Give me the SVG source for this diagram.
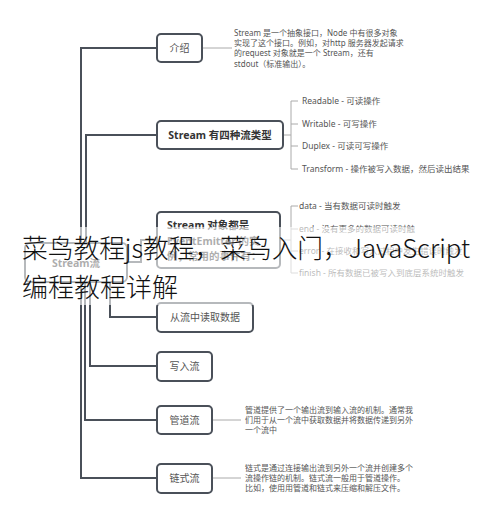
<svg xmlns="http://www.w3.org/2000/svg" width="490" height="521" viewBox="0 0 490 521">
<style>
.node rect{fill:#fff;stroke:#4a5059;stroke-width:2}
.nt{font-family:"Noto Sans","Noto Sans CJK SC",sans-serif;font-size:10px;fill:#555;text-anchor:middle}
.bt{font-family:"Noto Sans","Noto Sans CJK SC",sans-serif;font-size:10.5px;font-weight:bold;fill:#333}
.main{fill:none;stroke:#4a5059;stroke-width:2}
.thin{fill:none;stroke:#aaa;stroke-width:1}
.desc{font-family:"Noto Sans","Noto Sans CJK SC",sans-serif;font-size:8px;fill:#555}
.br{font-family:"Noto Sans","Noto Sans CJK SC",sans-serif;font-size:8.5px;fill:#555}
.wm{font-family:"Noto Sans CJK SC","Noto Sans",sans-serif;font-size:26px;font-weight:300;fill:#111}
</style>
<rect width="490" height="521" fill="#fff"/>
<g id="connectors">
<path class="main" d="M81,243 V48 H157"/>
<path class="main" d="M86,243 V135 H157"/>
<path class="main" d="M127,262 H141 V240 H157"/>
<path class="main" d="M110,282 V317 H157"/>
<path class="main" d="M90,282 V366 H157"/>
<path class="main" d="M85,282 V420 H157"/>
<path class="main" d="M81,282 V478 H157"/>
<path class="thin" d="M202,48 H232"/>
<path class="thin" d="M212,420 H241"/>
<path class="thin" d="M212,478 H241"/>
<path class="thin" stroke="#999" d="M283,135 H291 M298,101 H291 V169 H298 M291,124 H298 M291,146 H298"/>
<path class="thin" stroke="#999" d="M280,240 H291 M298,206 H291 V273 H298 M291,229 H298 M291,251 H298"/>
</g>
<g id="root" class="node"><rect x="25" y="243" width="102" height="39" rx="5"/><text class="bt" x="76" y="267" text-anchor="middle" font-size="12">Stream流</text></g>
<g id="intro" class="node"><rect x="157" y="34" width="45" height="28" rx="4"/><text class="nt" x="179.5" y="52">介绍</text></g>
<g id="intro-text">
<text class="desc" x="234" y="36">Stream 是一个抽象接口，Node 中有很多对象</text>
<text class="desc" x="234" y="46">实现了这个接口。例如，对http 服务器发起请求</text>
<text class="desc" x="234" y="56">的request 对象就是一个 Stream，还有</text>
<text class="desc" x="234" y="67">stdout（标准输出）。</text>
</g>
<g id="types" class="node"><rect x="157" y="121" width="126" height="28" rx="4"/><text class="bt" x="220" y="139" text-anchor="middle">Stream 有四种流类型</text></g>
<g id="types-items">
<text class="br" x="302" y="104">Readable - 可读操作</text>
<text class="br" x="302" y="127">Writable - 可写操作</text>
<text class="br" x="302" y="149">Duplex - 可读可写操作</text>
<text class="br" x="302" y="172">Transform - 操作被写入数据，然后读出结果</text>
</g>
<g id="events" class="node"><rect x="157" y="212" width="123" height="56" rx="4"/>
<text class="bt" x="167" y="229" font-size="10">Stream 对象都是</text>
<text class="bt" x="167" y="245" font-size="10">EventEmitter 的实</text>
<text class="bt" x="167" y="260" font-size="10">例，常用的事件有：</text></g>
<g id="events-items">
<text class="br" x="299" y="209">data - 当有数据可读时触发</text>
<text class="br" x="299" y="232">end - 没有更多的数据可读时触</text>
<text class="br" x="299" y="254">error - 在接收和写入过程中发生错误时触发</text>
<text class="br" x="299" y="276">finish - 所有数据已被写入到底层系统时触发</text>
</g>
<g id="read" class="node"><rect x="157" y="303" width="96" height="29" rx="4"/><text class="nt" x="205" y="321">从流中读取数据</text></g>
<g id="write" class="node"><rect x="157" y="352" width="55" height="29" rx="4"/><text class="nt" x="184.5" y="370">写入流</text></g>
<g id="pipe" class="node"><rect x="157" y="406" width="55" height="28" rx="4"/><text class="nt" x="184.5" y="424">管道流</text></g>
<g id="pipe-text">
<text class="desc" x="245" y="413">管道提供了一个输出流到输入流的机制。通常我</text>
<text class="desc" x="245" y="423">们用于从一个流中获取数据并将数据传递到另外</text>
<text class="desc" x="245" y="433">一个流中</text>
</g>
<g id="chain" class="node"><rect x="157" y="464" width="55" height="29" rx="4"/><text class="nt" x="184.5" y="482">链式流</text></g>
<g id="chain-text">
<text class="desc" x="245" y="471">链式是通过连接输出流到另外一个流并创建多个</text>
<text class="desc" x="245" y="481">流操作链的机制。链式流一般用于管道操作。</text>
<text class="desc" x="245" y="491">比如，使用用管道和链式来压缩和解压文件。</text>
</g>
<g id="watermark">
<rect x="18" y="227" width="458" height="78" fill="#fff" opacity="0.6"/>
<text class="wm" x="22" y="258" textLength="448" lengthAdjust="spacingAndGlyphs">菜鸟教程js教程，菜鸟入门，JavaScript</text>
<text class="wm" x="22" y="297">编程教程详解</text>
</g>
</svg>
